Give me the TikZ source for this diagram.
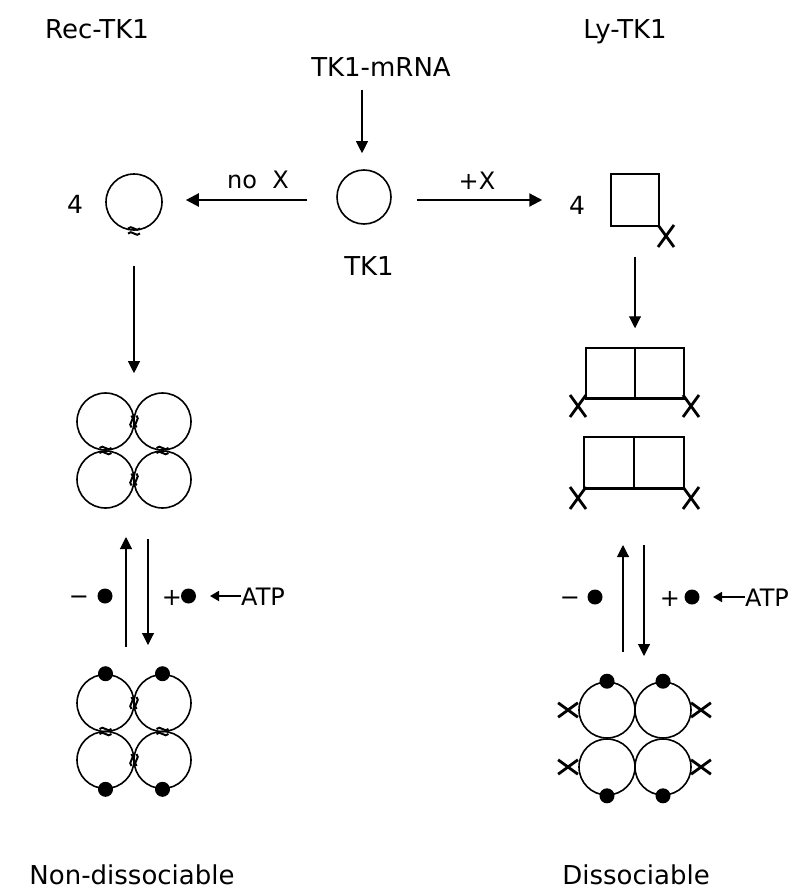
\documentclass[tikz,border=0pt]{standalone}
\usepackage{fontspec}
\setmainfont{DejaVu Sans}
\usetikzlibrary{arrows.meta}
\tikzset{
  bondmark/.pic={\draw[line width=2pt] (-6,-2.5) .. controls (-2.5,-7) and (2.5,2) .. (6,-2.5)
                                     (-6,2.5) .. controls (-2.5,-2) and (2.5,7) .. (6,2.5);},
  xcross/.pic={\draw[line width=2.8pt] (-8,-11) -- (8,11) (-8,11) -- (8,-11);},
}
\begin{document}
\begin{tikzpicture}[x=1pt,y=-1pt,
  biglab/.style={font=\fontsize{26}{30}\selectfont, inner sep=0pt, anchor=base},
  midlab/.style={font=\fontsize{24}{28}\selectfont, inner sep=0pt, anchor=base},
  mono/.style={circle, draw, line width=1.6pt, minimum size=56pt, inner sep=0pt},
  sqbox/.style={draw, line width=1.5pt, inner sep=0pt},
  dotm/.style={circle, fill, minimum size=15pt, inner sep=0pt},
  thinarrow/.style={line width=1.1pt, -{Triangle[length=12pt,width=12pt]}},
  thickarrow/.style={line width=2.2pt, -{Triangle[length=13pt,width=13pt]}},
  atparrow/.style={line width=1.8pt, -{Triangle[length=9pt,width=10pt]}},
]
\fill[white] (0,0) rectangle (803,891);
\useasboundingbox (0,0) rectangle (803,891);

% titles
\node[biglab] (rec) at (97,38) {Rec-TK1};
\node[biglab] (ly) at (625,38) {Ly-TK1};
\node[biglab] (mrna) at (381,77) {TK1-mRNA};

% central monomer
\node[mono, minimum size=54pt] (tk1) at (364,197) {};
\node[biglab] (tk1lab) at (369,275) {TK1};
\coordinate (mtop) at (362,90);
\draw[thinarrow, shorten >=16pt] (mtop) -- (mtop |- tk1.north);

% left branch
\node[midlab, font=\fontsize{25}{29}\selectfont] (four1) at (75,213) {4};
\node[mono] (recmono) at (134,202) {};
\pic at (134,231) {bondmark};
\draw[thickarrow, shorten <=29pt, shorten >=23pt] ([yshift=-3pt]tk1.west) -- ([yshift=-3pt]tk1.west -| recmono.east);
\node[midlab] (nox) at (258,188) {no\ \ X};

% right branch
\node[midlab, font=\fontsize{25}{29}\selectfont] (four2) at (577,214) {4};
\node[sqbox, minimum width=48pt, minimum height=52pt] (sq) at (635,200) {};
\pic at (666,236) {xcross};
\draw[thickarrow, shorten <=25pt, shorten >=68pt] ([yshift=-3pt]tk1.east) -- ([yshift=-3pt]tk1.east -| sq.west);
\node[midlab] (plusx) at (477,189) {+X};

% left tetramer (no ATP)
\node[mono, minimum size=57pt] (a1) at (105.5,421.5) {};
\node[mono, minimum size=57pt] (a2) at (162.5,421.5) {};
\node[mono, minimum size=57pt] (a3) at (105.5,479.5) {};
\node[mono, minimum size=57pt] (a4) at (162.5,479.5) {};
\pic[rotate=90] at (134,421.5) {bondmark};
\pic at (105.5,450.5) {bondmark};
\pic at (162.5,450.5) {bondmark};
\pic[rotate=90] at (134,479.5) {bondmark};
\draw[thinarrow, shorten <=35pt, shorten >=19pt] (recmono.south) -- (recmono.south |- a1.north);

% left tetramer (with ATP)
\node[mono, minimum size=57pt] (b1) at (105.5,703) {};
\node[mono, minimum size=57pt] (b2) at (162.5,703) {};
\node[mono, minimum size=57pt] (b3) at (105.5,760) {};
\node[mono, minimum size=57pt] (b4) at (162.5,760) {};
\pic[rotate=90] at (134,703) {bondmark};
\pic at (105.5,731.5) {bondmark};
\pic at (162.5,731.5) {bondmark};
\pic[rotate=90] at (134,760) {bondmark};
\node[dotm] (bd1) at (b1.north) {};
\node[dotm] (bd2) at (b2.north) {};
\node[dotm] (bd3) at (b3.south) {};
\node[dotm] (bd4) at (b4.south) {};

% left equilibrium arrows
\coordinate (lu0) at (126,647);
\coordinate (lu1) at (126,537);
\coordinate (ld0) at (148,539);
\coordinate (ld1) at (148,645);
\draw[thinarrow] (lu0) -- (lu1);
\draw[thinarrow] (ld0) -- (ld1);
\node[midlab] (lminus) at (79,604) {−};
\node[dotm] (ldot1) at (105,596) {};
\node[midlab] (lplus) at (172,605) {+};
\node[dotm] (ldot2) at (188.5,596) {};
\node[midlab, anchor=base west] (latp) at (241,605) {ATP};
\coordinate (latpe) at (210,596);
\draw[atparrow] ([yshift=9pt]latp.base west) -- (latpe);

% right dimers
\node[sqbox, minimum width=98pt, minimum height=50pt] (d1) at (635,373) {};
\draw[line width=1.3pt] (d1.north) -- (d1.south);
\draw[line width=2.2pt] (d1.south west) -- (d1.south east);
\pic at (578,406) {xcross};
\pic at (691,406) {xcross};
\draw[thinarrow, shorten <=30pt, shorten >=19pt] (sq.south) -- (sq.south |- d1.north);

\node[sqbox, minimum width=100pt, minimum height=51pt] (d2) at (634,462.5) {};
\draw[line width=1.8pt] (d2.north) -- (d2.south);
\draw[line width=2.2pt] (d2.south west) -- (d2.south east);
\pic at (578,498) {xcross};
\pic at (691,498) {xcross};

% right equilibrium arrows
\coordinate (ru0) at (623,652);
\coordinate (ru1) at (623,545);
\coordinate (rd0) at (644,545);
\coordinate (rd1) at (644,656);
\draw[thinarrow] (ru0) -- (ru1);
\draw[thinarrow] (rd0) -- (rd1);
\node[midlab] (rminus) at (570,605) {−};
\node[dotm] (rdot1) at (595,597) {};
\node[midlab] (rplus) at (670,606) {+};
\node[dotm] (rdot2) at (692,597) {};
\node[midlab, anchor=base west] (ratp) at (745,606) {ATP};
\coordinate (ratpe) at (713,597);
\draw[atparrow] ([yshift=9pt]ratp.base west) -- (ratpe);

% right tetramer (with ATP)
\node[mono] (c1) at (607,710) {};
\node[mono] (c2) at (663,710) {};
\node[mono] (c3) at (607,767) {};
\node[mono] (c4) at (663,767) {};
\node[dotm] (cd1) at (c1.north) {};
\node[dotm] (cd2) at (c2.north) {};
\node[dotm] (cd3) at (c3.south) {};
\node[dotm] (cd4) at (c4.south) {};
\pic[rotate=90, scale=0.9] at (568,710) {xcross};
\pic[rotate=90, scale=0.9] at (568,767) {xcross};
\pic[rotate=90, scale=0.9] at (701,710) {xcross};
\pic[rotate=90, scale=0.9] at (701,767) {xcross};

% bottom labels
\node[biglab] (nondis) at (132,884) {Non-dissociable};
\node[biglab] (dis) at (636,884) {Dissociable};
\end{tikzpicture}
\end{document}
